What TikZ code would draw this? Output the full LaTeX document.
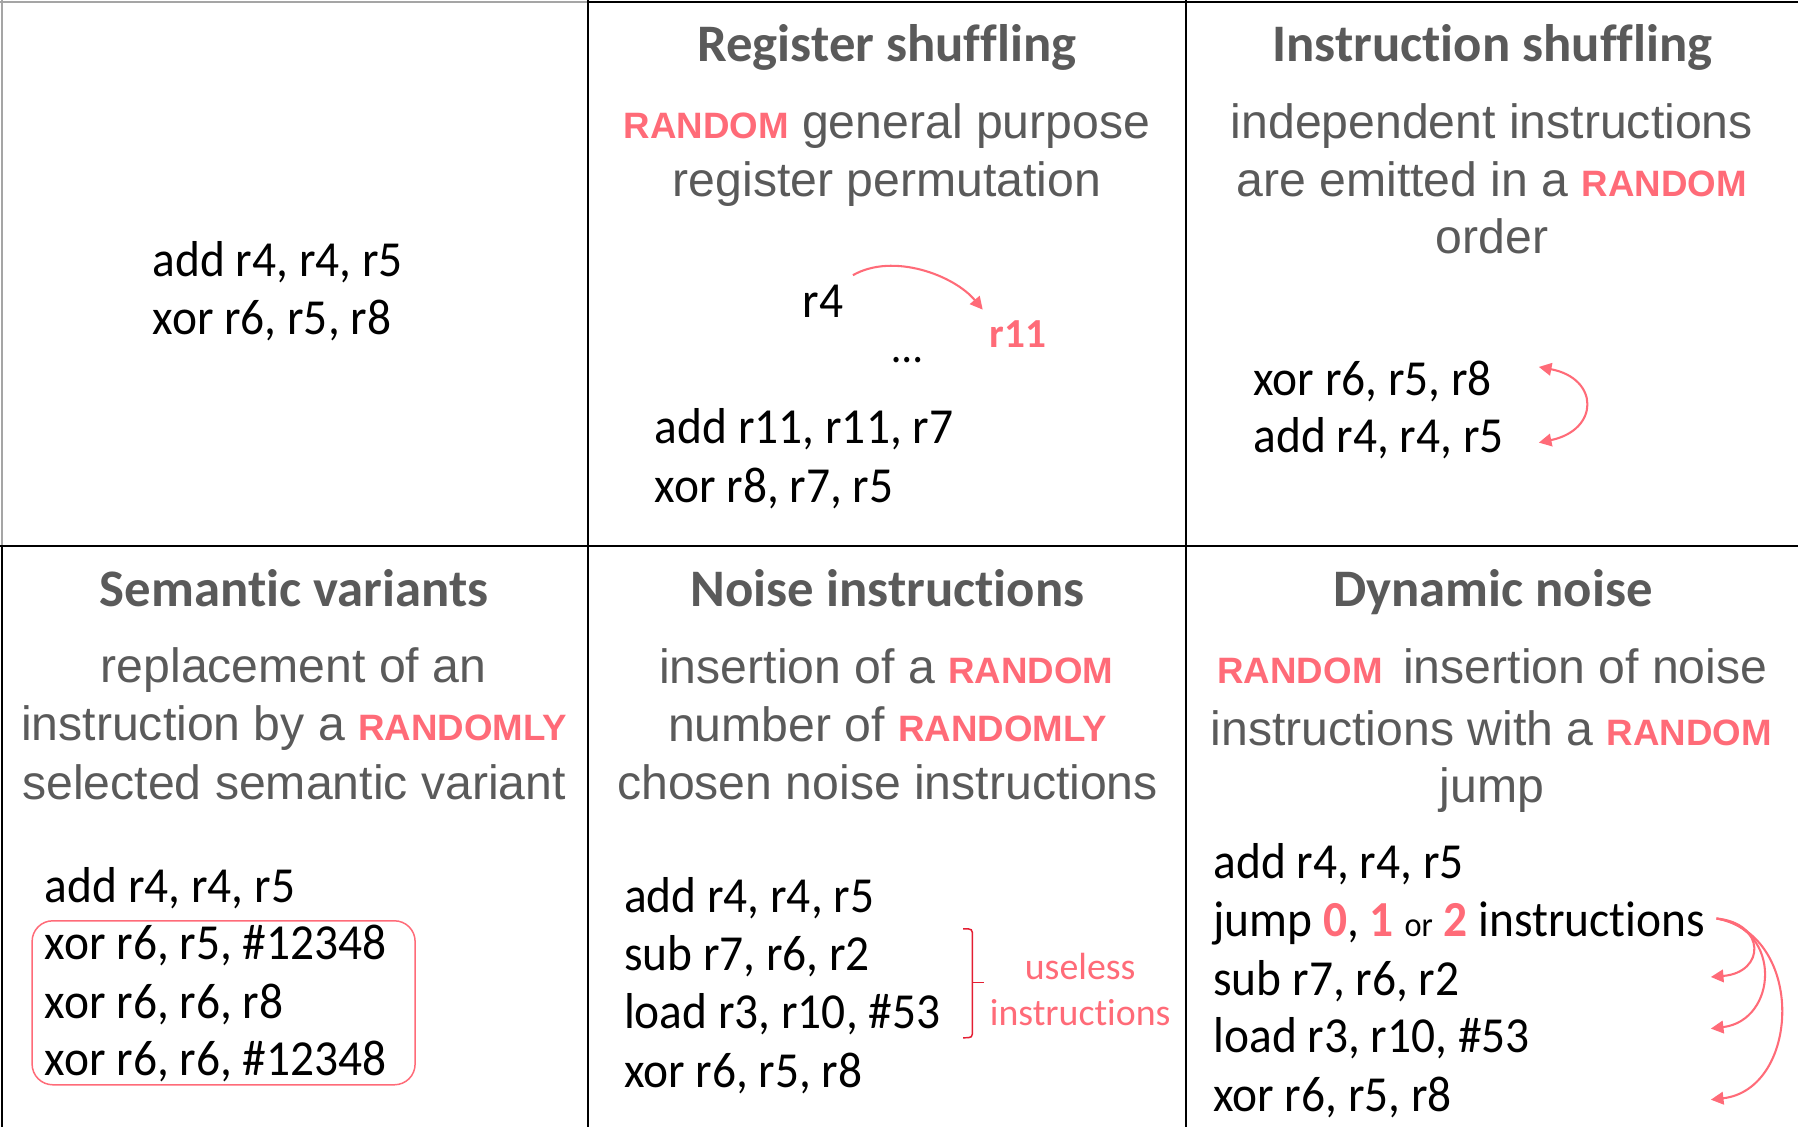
\documentclass[tikz,border=0pt]{standalone}
\usepackage{fontspec}
\setmainfont[Ligatures=NoCommon]{Carlito}
\newfontfamily\codef[FakeStretch=0.94,Ligatures=NoCommon]{Carlito}
\newfontfamily\descf{Liberation Sans}
\usetikzlibrary{arrows.meta,calc}
\definecolor{rpink}{RGB}{255,107,120}
\definecolor{tgray}{RGB}{90,90,90}
\definecolor{bred}{RGB}{228,30,50}
\definecolor{lgray}{RGB}{165,165,165}
\newcommand\RND[1]{{\bfseries\fontsize{32}{32}\selectfont\color{rpink}#1}}
\newcommand\PK[1]{{\bfseries\color{rpink}#1}}
\begin{document}
\begin{tikzpicture}[x=1pt,y=-1pt,
 code/.style={font=\codef\fontsize{44}{50}\selectfont, anchor=base west, inner sep=0pt},
 ttl/.style={font=\bfseries\fontsize{46}{50}\selectfont, text=tgray, anchor=base, inner sep=0pt},
 desc/.style={font=\descf\fontsize{42}{50}\selectfont, text=tgray, anchor=base, inner sep=0pt},
 gridline/.style={line width=1.8pt},
 parrow/.style={draw=rpink, line width=1.8pt, -{Triangle[length=11pt,width=11pt]}},
 darrow/.style={draw=rpink, line width=1.8pt, {Triangle[length=11pt,width=11pt]}-{Triangle[length=11pt,width=11pt]}},
 note/.style={anchor=base, inner sep=0pt, font=\fontsize{33}{33}\selectfont, text=rpink},
]
\useasboundingbox (0,0) rectangle (1568,983);
\fill[white] (0,0) rectangle (1568,983);

% grid
\draw[lgray, gridline] (0,2) -- (513,2);
\draw[lgray, gridline] (2,0) -- (2,476);
\draw[gridline] (513,2) -- (1568,2);
\draw[gridline] (513,0) -- (513,983);
\draw[gridline] (1034,0) -- (1034,983);
\draw[gridline] (0,476) -- (1568,476);
\draw[gridline] (2,476) -- (2,983);

% cell 1
\node[code] (c1a) at (133,241) {add r4, r4, r5};
\node[code] (c1b) at (133,292) {xor r6, r5, r8};

% cell 2
\node[ttl] (t2) at (773.5,54) {Register shuffling};
\node[desc] (d2a) at (773.5,121) {\RND{RANDOM} general purpose};
\node[desc] (d2b) at (773.5,171) {register permutation};
\node[code] (r4) at (700,277) {r4};
\node[anchor=base west, inner sep=0pt, font=\bfseries\fontsize{36}{36}\selectfont, text=rpink] (r11) at (863,303) {r11};
\node[code, font=\codef\fontsize{40}{40}\selectfont] (dots) at (778,316) {…};
\draw[parrow] ($(r4.base east)+(8,-37)$) .. controls +(35,-20) and +(-25,-30) .. ($(r11.base west)+(-6,-33)$);
\node[code] (c2a) at (571,387) {add r11, r11, r7};
\node[code] (c2b) at (571,438) {xor r8, r7, r5};

% cell 3
\node[ttl] (t3) at (1301.5,54) {Instruction shuffling};
\node[desc] (d3a) at (1301,121) {independent instructions};
\node[desc] (d3b) at (1301,171) {are emitted in a \RND{RANDOM}};
\node[desc] (d3c) at (1301,221) {order};
\node[code] (c3a) at (1093,345) {xor r6, r5, r8};
\node[code] (c3b) at (1093,395) {add r4, r4, r5};
\draw[darrow] ($(c3a.base west)+(249,-25)$) .. controls +(53,10) and +(53,-11) .. ($(c3b.base west)+(249,-9)$);

% cell 4
\node[ttl] (t4) at (256.5,529) {Semantic variants};
\node[desc] (d4a) at (256,595) {replacement of an};
\node[desc] (d4b) at (256.5,646) {instruction by a \RND{RANDOMLY}};
\node[desc] (d4c) at (256.5,697) {selected semantic variant};
\node[code] (c4a) at (39,787) {add r4, r4, r5};
\node[code] (c4b) at (39,837) {xor r6, r5, \#12348};
\node[code] (c4c) at (39,888) {xor r6, r6, r8};
\node[code] (c4d) at (39,938) {xor r6, r6, \#12348};
\node[draw=rpink, line width=1.3pt, rounded corners=18pt, minimum width=334pt, minimum height=143pt, inner sep=0pt] (vbox) at (195,874.5) {};

% cell 5
\node[ttl] (t5) at (774,529) {Noise instructions};
\node[desc] (d5a) at (773,596) {insertion of a \RND{RANDOM}};
\node[desc] (d5b) at (774,647) {number of \RND{RANDOMLY}};
\node[desc] (d5c) at (774,697) {chosen noise instructions};
\node[code] (c5a) at (544,796) {add r4, r4, r5};
\node[code] (c5b) at (544,846) {sub r7, r6, r2};
\node[code] (c5c) at (544,897) {load r3, r10, \#53};
\node[code] (c5d) at (544,948) {xor r6, r5, r8};
\draw[bred, line width=1.3pt] (840,810) .. controls (848,810) .. (848,817) -- (848,898) .. controls (848,905) .. (840,905);
\draw[bred, line width=1.3pt] (848,857) -- (858,857);
\node[note] (u1) at (942,854) {useless};
\node[note] (u2) at (942,894) {instructions};

% cell 6
\node[ttl] (t6) at (1302,529) {Dynamic noise};
\node[desc] (d6a) at (1301.5,596) {\RND{RANDOM}\hspace{18pt}insertion of noise};
\node[desc] (d6b) at (1300.5,650) {instructions with a \RND{RANDOM}};
\node[desc] (d6c) at (1301,700) {jump};
\node[code] (c6a) at (1058,766) {add r4, r4, r5};
\node[code] (c6b) at (1058,817) {jump \PK{0}, \PK{1} {\fontsize{30}{30}\selectfont or} \PK{2} instructions};
\node[code] (c6c) at (1058,868) {sub r7, r6, r2};
\node[code] (c6d) at (1058,918) {load r3, r10, \#53};
\node[code] (c6e) at (1058,969) {xor r6, r5, r8};
\draw[parrow] ($(c6b.base east)+(10,-16)$) .. controls +(43,4) and +(48,-4) .. ($(c6c.base west)+(434,-16)$);
\draw[parrow] ($(c6b.base east)+(10,-16)$) .. controls +(58,9) and +(58,-7) .. ($(c6d.base west)+(434,-21)$);
\draw[parrow] ($(c6b.base east)+(10,-16)$) .. controls +(78,14) and +(78,-9) .. ($(c6e.base west)+(434,-10)$);
\end{tikzpicture}
\end{document}
